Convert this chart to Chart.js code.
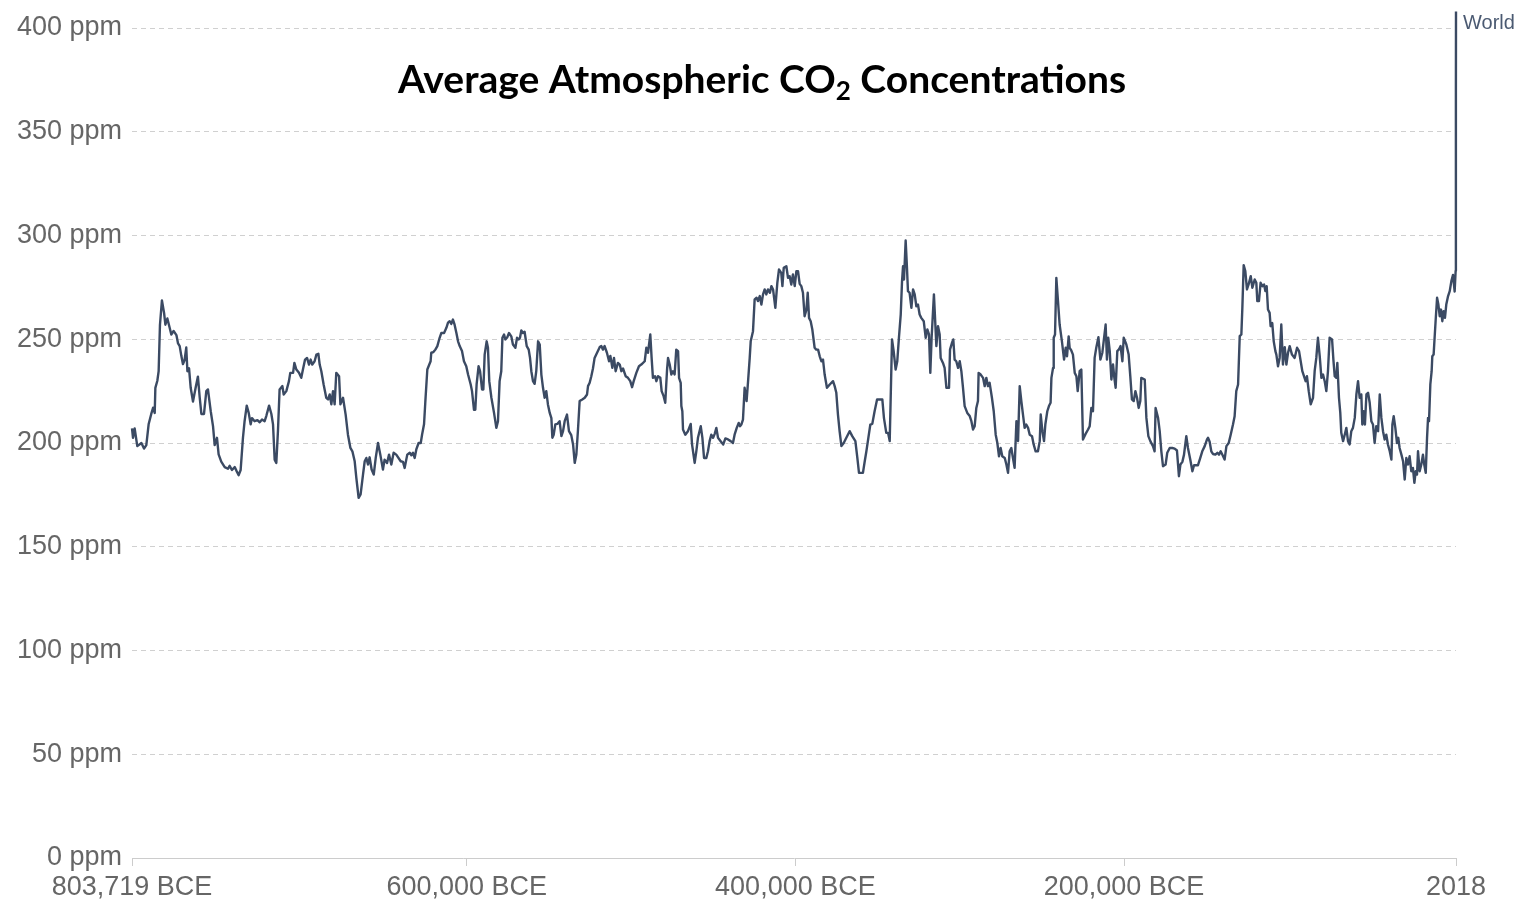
<!DOCTYPE html>
<html>
<head>
<meta charset="utf-8">
<script src="https://cdn.jsdelivr.net/npm/chart.js@4.4.1/dist/chart.umd.min.js"></script>
<style>
  html, body { margin: 0; padding: 0; background: #ffffff; }
  #wrap { width: 1538px; height: 901px; position: relative; }
</style>
</head>
<body>
<div id="wrap"><canvas id="co2" width="1538" height="901"></canvas></div>
<script>
// Years (negative = BCE) and average atmospheric CO2 concentration (ppm)
const years = [
  -803719,-803100,-802100,-800500,-798000,-796400,-795000,-793600,-792000,-790900,-789900,-789500,-788300,-787500,-786700,-785500,
  -784200,-783400,-782200,-780800,-779800,-778400,-776700,-775700,-774700,-773700,-772700,-771700,-770700,-770000,-769000,-768000,
  -766600,-765000,-763600,-762500,-761500,-759900,-758500,-757500,-755800,-754400,-753400,-752000,-751000,-749400,-747300,-745300,
  -744300,-742900,-741200,-740200,-738800,-737600,-736200,-735200,-733900,-732700,-731500,-730700,-729100,-727400,-726000,-724600,
  -723000,-722000,-720300,-718900,-717900,-716900,-715900,-714900,-713900,-712200,-711400,-709800,-708200,-707400,-705700,-704900,
  -703700,-702100,-700700,-699700,-698400,-697200,-696000,-695000,-694000,-692600,-691500,-690300,-689500,-688500,-687100,-685500,
  -684400,-683400,-682400,-681400,-680400,-679400,-677700,-676900,-675300,-673700,-672300,-670800,-669600,-668200,-667200,-665800,
  -664600,-663100,-662100,-661100,-660100,-659100,-657900,-656600,-655400,-654000,-652600,-651000,-650000,-648500,-647300,-645900,
  -644500,-642900,-640200,-638800,-637800,-636200,-634700,-633700,-632700,-631700,-630700,-629300,-628000,-627200,-626000,-625200,
  -624000,-622800,-622000,-621600,-620300,-619100,-617900,-616500,-615500,-613800,-612400,-611400,-610400,-609400,-608400,-607400,
  -606300,-605300,-604300,-602900,-601700,-600300,-599200,-597600,-596800,-595600,-594800,-594000,-592800,-591900,-590700,-589900,
  -589100,-587900,-587100,-586300,-585000,-583400,-582000,-581000,-580000,-579000,-578300,-577300,-576500,-575300,-574300,-572900,
  -571900,-570400,-569400,-568400,-567600,-566800,-565800,-564800,-563500,-562300,-561500,-560700,-559700,-558700,-557700,-556600,
  -555600,-554600,-553600,-552600,-551600,-550600,-549500,-548500,-547900,-547100,-546100,-544900,-543500,-542400,-541400,-540400,
  -539000,-537800,-536400,-535300,-534300,-533300,-532300,-531300,-529700,-528200,-526800,-526200,-525200,-524200,-523200,-522200,
  -520700,-519100,-518100,-517100,-516100,-514700,-513400,-512600,-511400,-510400,-509400,-508000,-506900,-505900,-504900,-503300,
  -501900,-500500,-499400,-498400,-496800,-495200,-493800,-491700,-490700,-489700,-488300,-487500,-486700,-485400,-484600,-483600,
  -482200,-481400,-480200,-479200,-478100,-477500,-476500,-475500,-474500,-473500,-472500,-471400,-470800,-469800,-469400,-468800,
  -468400,-467000,-465400,-463700,-462900,-461300,-460300,-459300,-457600,-456600,-455600,-454200,-453200,-452200,-451200,-450100,
  -449100,-448100,-447100,-445500,-443900,-442600,-441000,-439400,-438000,-437000,-435700,-434500,-433700,-432900,-431900,-430900,
  -429700,-428800,-427800,-427200,-425800,-424800,-423600,-422800,-421700,-420700,-419700,-418700,-417700,-416700,-415500,-414600,
  -413600,-412200,-411000,-410000,-408600,-407900,-407100,-405500,-404500,-403500,-402500,-401500,-400400,-399400,-398400,-397400,
  -396400,-395400,-394400,-393300,-392500,-391700,-390700,-389700,-388300,-387300,-386200,-385200,-384200,-383200,-382200,-380800,
  -379100,-377100,-376100,-375100,-374100,-373100,-372000,-370600,-369000,-367000,-365400,-363500,-362300,-361300,-358900,-357800,
  -356800,-355600,-354400,-353200,-351800,-350300,-348700,-347100,-346100,-344700,-343600,-342600,-341200,-340200,-339000,-338000,
  -337000,-335900,-335100,-334500,-333900,-332900,-332100,-331500,-330500,-329400,-328400,-327400,-326400,-325400,-324400,-323400,
  -321900,-320700,-319700,-318700,-317900,-317100,-315700,-314200,-313200,-312200,-311600,-310200,-309200,-308100,-306500,-305900,
  -304700,-303900,-303100,-302100,-301000,-300000,-299000,-298000,-297000,-295400,-293900,-292900,-291900,-290900,-289900,-288900,
  -288500,-287300,-285800,-284800,-283800,-282800,-281800,-280400,-279300,-278100,-277100,-276100,-275100,-274100,-272600,-271600,
  -270600,-269600,-268600,-267600,-266600,-265500,-264500,-263500,-262500,-261500,-260500,-259500,-258400,-257400,-256000,-255000,
  -253800,-252400,-251300,-250700,-249700,-248700,-247900,-246700,-245700,-244700,-244200,-243200,-242800,-242000,-241200,-240200,
  -239200,-237800,-236500,-235500,-234700,-233700,-233100,-232100,-231100,-230000,-229000,-228200,-227000,-226000,-225000,-223400,
  -221900,-220900,-219900,-218900,-217900,-216900,-215600,-214400,-213200,-212400,-211200,-210400,-209600,-208700,-207700,-206700,
  -205900,-205100,-204100,-203100,-202100,-201000,-200200,-198600,-197200,-196200,-195200,-194100,-193100,-192100,-191100,-190100,
  -189500,-187400,-186400,-185200,-184000,-182400,-181400,-180800,-179300,-178300,-177300,-176300,-174700,-173700,-172200,-170600,
  -169200,-167800,-166600,-165700,-164500,-163500,-162100,-161100,-159700,-158400,-157400,-156000,-155000,-153600,-152400,-150900,
  -149500,-148900,-147900,-146900,-145900,-144400,-143200,-142200,-141200,-140000,-138800,-137700,-136300,-135100,-133700,-132700,
  -131700,-130600,-129600,-128600,-128000,-127200,-126200,-125200,-124200,-122900,-121900,-120500,-119500,-118900,-117900,-116900,
  -115800,-114800,-114000,-113200,-112400,-111400,-110800,-109800,-108900,-107900,-107300,-106300,-105300,-104300,-103300,-102200,
  -101200,-100200,-99200,-97800,-96200,-94700,-93500,-92500,-91500,-90500,-89500,-88700,-87600,-86400,-85000,-84000,
  -83000,-82000,-80900,-79900,-78900,-77900,-76900,-75900,-74900,-73400,-72600,-71800,-70800,-70200,-69200,-68400,
  -67800,-66700,-65700,-64700,-63700,-62700,-61700,-60700,-59600,-58600,-57600,-56600,-55600,-55000,-54200,-53400,
  -52500,-51500,-50500,-49500,-48500,-47500,-46500,-45400,-44400,-43400,-42400,-41400,-40400,-39400,-38300,-37300,
  -36700,-35900,-34900,-33900,-33100,-32300,-31200,-30200,-29200,-28200,-27200,-26200,-25200,-24200,-23300,-22500,
  -21700,-21100,-20100,-19100,-18100,-17300,-16400,-15600,-15000,-14400,-13600,-12800,-12400,-11600,-11000,-10400,
  -9500,-8700,-7900,-7100,-6300,-5500,-4700,-3900,-2800,-1800,-800,200,1200,1800,1900,1960,
  2000,2018
];

const co2 = [
  207,202.5,207,198.5,200,197.3,199,209,214,217,214.5,226.6,230,234.6,257,268.7,
  262.7,257,260,255.5,252.3,254,252,248,246.7,242,238,240,246,234.6,236,226.6,
  220,226.6,232,221.8,214,214,225,225.8,215.3,208,199,202.5,194.5,191,188.4,187.6,
  189,187,188.4,186.7,184.5,187,202.5,210.5,218,214.5,209,212,210.5,211,210,211.3,
  210.5,213,218,214,209,192,190.4,205.7,225.8,227.4,223.4,225,229.8,233.8,233.8,238.6,
  235.4,233.8,231.4,235.4,240.2,241,237.8,240.2,237.8,239.4,242.6,243,237.8,234.6,228.2,221.8,
  221,223.4,218.6,225,218.6,233.8,232.2,218.6,221.8,213.7,204,197.6,196,191.2,183.2,173.6,
  175.2,185,191.2,192.8,189.6,193.1,187.2,184.8,192.8,200,194.4,187.2,192,190.4,194.4,189.6,
  195.3,194.4,191.2,190.9,188,194.4,195.3,194.1,195.3,192.8,196.9,200,200,204,209,220,
  235.4,237.8,239.4,243.5,243.8,245,246.7,250.7,253,253,255.5,258,258.7,257.4,259.5,257,
  253,249,246.7,244.3,239.4,237,233,228.2,225,216,216,228.2,237,234.6,225.8,225.8,
  242.6,249,245.9,229.8,221.8,214.5,207.3,210.5,229.8,234.6,250.7,252.3,249.9,251,253,251.4,
  247.5,245.9,250.7,249.9,250.7,254.2,253,253.6,246.7,245,241,234.6,229.8,228.5,234.6,249,
  247.5,233,226.6,221.8,225,218.6,214.5,212,202.5,204,209,209.2,210.5,203.3,205.7,210.5,
  213.7,205.7,203.8,199.3,190.4,194.4,206.5,220.2,221,221.8,223.4,227.4,229,232.2,235.9,241,
  243.5,246.2,246.7,245,246.7,243.5,239.4,242,236.2,241,234.6,238.6,237.8,234.6,235.9,232.2,
  231.4,229.8,226.9,229.8,233.8,237,237.8,239.4,245.9,243.5,252.3,241,231.4,232.2,229.8,232.2,
  231.4,225,222.6,219.4,235.4,241,237.8,233,234.6,233,245,244.3,231.4,229,217.8,215.3,
  206.5,204,205.7,209.2,199.3,190.4,196,202.5,208.1,202.5,192.8,192.8,196,200.9,204,202.5,
  204.4,207.3,202.5,200.9,199.3,202.2,201.7,200.9,200,204,207.3,209.7,208.1,208.9,211.3,226.6,
  220.2,229.8,241,249,253.9,269.2,270,268.4,270.8,266.7,271.6,274,271.6,274,272.4,275.6,
  274,265.1,277.2,283.6,282,275.6,284.4,285.2,279.6,280.4,276.4,281.2,275.6,282.8,282.8,276.7,
  275.6,272.4,261.1,264.3,272.4,260.3,258.7,254.7,245.9,245,245,241.8,239.4,240.2,233,226.6,
  228.2,229.8,227.4,224.2,213.7,205.7,198.5,200,202.5,205.7,203.3,200.9,192.8,185.6,185.6,191.2,
  196,202.5,208.9,209.2,215.3,221,221,221,212,204.9,204.9,200.9,249.9,244.3,235.4,239.4,
  250.7,261.9,278,285.2,278.8,297.6,284.4,273.2,272.4,265.1,274,271.6,265.9,266.7,261.9,260.3,
  258.7,250.7,254.7,252.3,233.8,250.7,271.6,246.7,256.3,252.3,241,238.6,236.2,226.6,226.6,245,
  248.3,249.9,240.2,239.4,236.2,239.4,234.6,226.6,217.8,214.5,213,210.5,206.5,208.1,216.9,220.2,
  233.8,233,231.4,227.4,231.4,227.4,229,221.8,215.3,204,200,193.6,197.6,193.6,192.8,189.6,
  185.6,196,197.6,192.8,188,210.5,200.9,227.4,220.2,213.7,207.3,208.9,207.3,204,203.3,199.3,
  196,196,200.9,213.7,205.7,200.9,208.9,215.3,217.8,219.4,231.4,236.2,250.7,252.3,279.6,268.4,
  257.1,249,240.2,245.9,241.8,251.4,245.9,244.6,242.6,233.8,232.2,225,234.6,235.4,201.7,204.4,
  206.5,208.1,216.9,215.3,241,245.9,251,240.2,243.5,249,257.1,240.2,250.7,244.3,230.6,237.8,
  231.4,226.6,244.3,245.1,246.7,239.4,250.7,247.5,242.6,232.2,221,220.2,225,221.8,216.9,220.2,
  231.4,230.6,212.1,203.3,200.9,198.5,196,216.9,212.1,205.7,196,188.8,189.6,195.3,197.6,197.6,
  197.3,196.4,184,189.6,190.9,194.4,203.3,197.6,192,186.4,189.3,189.3,189.3,192.8,196,198.5,
  201.7,202.5,200.6,196,194.7,194.4,195.3,194.4,196,194.1,192,198.5,200,204,208.9,212.9,
  225,228.2,251.5,252.3,265.1,285.7,282.8,274,276.4,280.4,274.8,278.8,277.2,268.4,268.4,277.2,
  275.6,276.4,273.2,275.6,264.3,262.7,256.3,257.8,249,244.3,242.6,237,241,257.1,237.8,246.2,
  237.8,243.5,246.7,242.6,241,245.9,244.3,239.4,234.6,232.2,229.8,232.2,225,218.6,221.8,234.6,
  241,250.7,241.8,231.4,233,229.8,225,234.6,250.7,249.9,240.2,232.2,231.4,238.6,221.8,214.5,
  204.9,200.9,204,207.3,200.9,199.3,205.7,207.3,212.1,223.4,229.8,221.8,223.4,208.9,215.3,208.9,
  223.4,224.2,219.4,210.5,208.9,200,208.1,205.7,223.4,212.1,205.7,201.7,204,199.3,196,192,
  208.9,212.9,207.3,200,202.5,197.6,194.4,191.2,182.4,192.8,189.6,193.6,186.4,188,180.8,186.4,
  184.8,196,186.4,189.6,194.4,189.6,185.6,202.5,212.1,210.5,228.2,234.6,241.8,242.6,250.7,258.7,
  270,266.7,261.1,264.3,258.7,263.5,260.3,266.7,270.8,273.2,278,281,273,283,296,317,
  369,408
];

// Axis ticks
const xTickValues = [-803719, -600000, -400000, -200000, 2018];
const xTickLabels = ['803,719 BCE', '600,000 BCE', '400,000 BCE', '200,000 BCE', '2018'];
const yTickValues = [0, 50, 100, 150, 200, 250, 300, 350, 400];

const seriesName = 'World';
const titleParts = ['Average Atmospheric CO', '2', ' Concentrations'];

const LINE_COLOR = '#3b4a63';
const AXIS_FONT = '"Liberation Sans", Arial, sans-serif';

// Heading with a subscripted "2"
const headingPlugin = {
  id: 'heading',
  afterDraw(chart) {
    const ctx = chart.ctx;
    ctx.save();
    const bigFont = 'bold 39px Lato, "Open Sans", sans-serif';
    const smallFont = 'bold 26px Lato, "Open Sans", sans-serif';
    ctx.font = bigFont;
    const w1 = ctx.measureText(titleParts[0]).width;
    const w3 = ctx.measureText(titleParts[2]).width;
    ctx.font = smallFont;
    const w2 = ctx.measureText(titleParts[1]).width;
    const total = w1 + w2 + w3;
    let x = 762 - total / 2;
    const base = 93;
    ctx.fillStyle = '#000000';
    ctx.textBaseline = 'alphabetic';
    ctx.textAlign = 'left';
    ctx.font = bigFont;
    ctx.fillText(titleParts[0], x, base);
    x += w1;
    ctx.font = smallFont;
    ctx.fillText(titleParts[1], x, base + 7);
    x += w2;
    ctx.font = bigFont;
    ctx.fillText(titleParts[2], x, base);
    ctx.restore();
  }
};

// Series name next to the last point of the line
const endLabelPlugin = {
  id: 'endLabel',
  afterDatasetsDraw(chart) {
    const meta = chart.getDatasetMeta(0);
    const last = meta.data[meta.data.length - 1];
    if (!last) return;
    const ctx = chart.ctx;
    ctx.save();
    ctx.font = '20px ' + AXIS_FONT;
    ctx.fillStyle = '#4b5a72';
    ctx.textAlign = 'left';
    ctx.textBaseline = 'middle';
    ctx.fillText(chart.data.datasets[0].label, last.x + 7, last.y + 12);
    ctx.restore();
  }
};

new Chart(document.getElementById('co2').getContext('2d'), {
  type: 'line',
  data: {
    datasets: [{
      label: seriesName,
      data: years.map((yr, i) => ({ x: yr, y: co2[i] })),
      borderColor: LINE_COLOR,
      borderWidth: 2.4,
      pointRadius: 0,
      tension: 0,
      borderJoinStyle: 'round',
      fill: false,
      clip: false
    }]
  },
  options: {
    responsive: false,
    animation: false,
    devicePixelRatio: 1,
    layout: { padding: { left: 0, right: 82, top: 28, bottom: 0 } },
    plugins: {
      legend: { display: false },
      tooltip: { enabled: false },
      title: { display: false }
    },
    scales: {
      x: {
        type: 'linear',
        min: xTickValues[0],
        max: xTickValues[xTickValues.length - 1],
        afterBuildTicks: (s) => { s.ticks = xTickValues.map(v => ({ value: v })); },
        afterFit: (s) => { s.height = 43; },
        ticks: {
          autoSkip: false,
          maxRotation: 0,
          padding: 5,
          color: '#666666',
          font: { family: AXIS_FONT, size: 27 },
          callback: (v, i) => xTickLabels[i]
        },
        grid: { drawOnChartArea: false, drawTicks: true, tickLength: 8, color: '#cccccc', lineWidth: 1 },
        border: { display: true, color: '#cccccc', width: 1 }
      },
      y: {
        min: yTickValues[0],
        max: yTickValues[yTickValues.length - 1],
        afterBuildTicks: (s) => { s.ticks = yTickValues.map(v => ({ value: v })); },
        afterFit: (s) => { s.width = 132; },
        ticks: {
          padding: 10,
          color: '#666666',
          font: { family: AXIS_FONT, size: 27 },
          callback: (v) => v + ' ppm'
        },
        grid: { color: '#d0d0d0', drawTicks: false, lineWidth: 1 },
        border: { display: false, dash: [5, 4] }
      }
    }
  },
  plugins: [headingPlugin, endLabelPlugin]
});
</script>
</body>
</html>
